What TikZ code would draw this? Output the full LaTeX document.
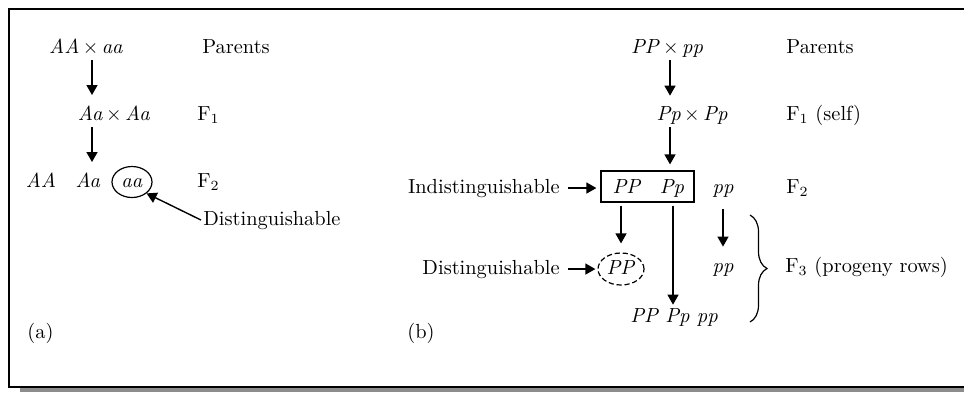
\documentclass[tikz,border=0pt]{standalone}
\usetikzlibrary{arrows.meta,shapes.geometric,decorations.pathreplacing}
\begin{document}
\begin{tikzpicture}[x=0.5pt,y=-0.5pt,
  arr/.style={line width=0.7pt,-{Triangle[length=5pt,width=5.5pt]}},
  txt/.style={inner sep=0pt,font=\fontsize{10.2}{12}\selectfont},
  thin line/.style={line width=0.6pt}]
\useasboundingbox (0,0) rectangle (964,393);
% frame with shadow
\fill[black!45] (20,387) rectangle (964,392);
\draw[line width=1pt,fill=white] (9,9) rectangle (980,387);
% ---------- panel (a)
\node[txt,anchor=base] (aP) at (86,53) {\textit{AA}\,$\times$\,\textit{aa}};
\node[txt,anchor=base west] (aPl) at (202,53) {Parents};
\node[txt,anchor=base] (aF1) at (114,120) {\textit{Aa}\,$\times$\,\textit{Aa}};
\node[txt,anchor=base west] (aF1l) at (197,120) {F$_1$};
\node[txt,anchor=base] (aAA) at (41,187) {\textit{AA}};
\node[txt,anchor=base] (aAa) at (88,187) {\textit{Aa}};
\node[txt,anchor=base] (aaa) at (132,187) {\textit{aa}};
\node[draw,thin line,ellipse,minimum width=20pt,minimum height=15.5pt,inner sep=0pt] (aell) at (132,182) {};
\node[txt,anchor=base west] (aF2l) at (197,187) {F$_2$};
\node[txt,anchor=base west] (adist) at (203,225) {Distinguishable};
\node[txt,anchor=base west] (alab) at (27,338) {(a)};
\coordinate (ax) at (92,0);
\draw[arr] ([yshift=-3.5pt]aP.base -| ax) -- ([yshift=5pt]aF1.north -| ax);
\draw[arr] ([yshift=-3.5pt]aF1.base -| ax) -- ([yshift=5pt]aAa.north -| ax);
\draw[arr] ([xshift=-1pt]adist.west) -- (aell.south east);
% ---------- panel (b)
\node[txt,anchor=base] (bP) at (667,53) {\textit{PP}\,$\times$\,\textit{pp}};
\node[txt,anchor=base west] (bPl) at (786,53) {Parents};
\node[txt,anchor=base] (bF1) at (692,120) {\textit{Pp}\,$\times$\,\textit{Pp}};
\node[txt,anchor=base west] (bF1l) at (786,120) {F$_1$ (self)};
\coordinate (bx) at (670,0);
\node[draw,thin line,minimum width=46.5pt,minimum height=15.5pt,inner sep=0pt] (box) at (647.5,186.5) {};
\node[txt,anchor=base] (bPP) at (627,193) {\textit{PP}};
\node[txt,anchor=base] (bPp) at (672,193) {\textit{Pp}};
\node[txt,anchor=base] (bpp) at (723,193) {\textit{pp}};
\node[txt,anchor=base west] (bF2l) at (786,193) {F$_2$};
\node[txt,anchor=base east] (bind) at (560,193) {Indistinguishable};
\draw[arr] ([yshift=-3.5pt]bP.base -| bx) -- ([yshift=5pt]bF1.north -| bx);
\draw[arr] ([yshift=-3.5pt]bF1.base -| bx) -- ([yshift=3pt]box.north -| bx);
\draw[arr] ([xshift=4pt]bind.east) -- ([xshift=-2pt]bind.east -| box.west);
% F3 row
\node[draw,thin line,dashed,dash pattern=on 2.6pt off 1.4pt,ellipse,minimum width=23pt,minimum height=16pt,inner sep=0pt] (bell) at (621,269) {};
\node[txt,anchor=base] (bPP3) at (621,274) {\textit{PP}};
\node[txt,anchor=base east] (bdist) at (560,274) {Distinguishable};
\node[txt,anchor=base] (bpp3) at (723,272) {\textit{pp}};
\node[txt,anchor=base] (bseg) at (674,322) {\textit{PP Pp pp}};
\node[txt,anchor=base west] (bF3l) at (785,272) {F$_3$ (progeny rows)};
\node[txt,anchor=base west] (blab) at (407,338) {(b)};
\draw[arr] ([yshift=-1.5pt]box.south -| bell) -- ([yshift=4.5pt]bell.north);
\coordinate (bx3) at (673,0);
\draw[arr] ([yshift=-1.5pt]box.south -| bx3) -- ([yshift=1.5pt]bseg.north -| bx3);
\draw[arr] ([yshift=-8pt]bpp.base) -- ([yshift=8pt]bpp3.north);
\draw[arr] ([xshift=4pt]bdist.east) -- ([xshift=-1pt]bdist.east -| bell.west);
\coordinate (brt) at (750,215);
\coordinate (brb) at (750,322);
\draw[thin line,decorate,decoration={brace,amplitude=8.5pt}] (brt) -- (brb);
\end{tikzpicture}
\end{document}
